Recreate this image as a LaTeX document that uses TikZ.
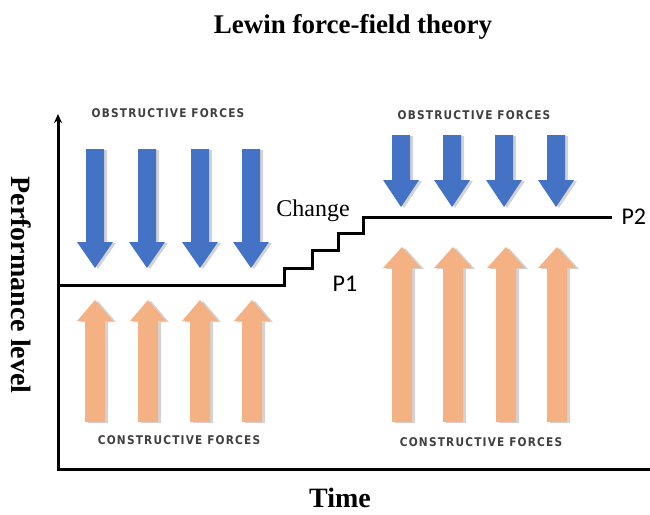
\documentclass[tikz,border=0pt]{standalone}
\usepackage{fontspec}
\setmainfont{Liberation Serif}
\newfontfamily\pfont{Carlito}
\newfontfamily\forcefont{DejaVu Sans}[FakeStretch=0.88, LetterSpace=10]
\usetikzlibrary{shadows,arrows.meta}

\definecolor{obsblue}{HTML}{4472C4}
\definecolor{conorange}{HTML}{F4B183}

\tikzset{
  forceshadow/.style={drop shadow={opacity=0.35, shadow xshift=3pt, shadow yshift=-1pt}},
  obstructive/.style={fill=obsblue, forceshadow},
  constructive/.style={fill=conorange, forceshadow},
  forcelabel/.style={font=\forcefont\bfseries\fontsize{12}{14}\selectfont, text=black!75},
  axis/.style={line width=3pt, line cap=round},
  level/.style={line width=3pt},
}

\begin{document}
\begin{tikzpicture}[x=1pt, y=-1pt, >={Stealth[length=9pt, width=8pt]}]
	\useasboundingbox (0,0) rectangle (650,514);
	% axes
	\coordinate (origin) at (58,469);
	\coordinate (ytop) at (58,114);
	\coordinate (xend) at (650,469);
	\draw[axis, <-] (ytop) -- (origin) -- (xend);
	% forces before the change
	\foreach \x in {95,147,200,251}
	  \fill[obstructive] (\x-9,149) -- (\x+9,149) -- (\x+9,242) -- (\x+18,242) -- (\x,268) -- (\x-18,242) -- (\x-9,242) -- cycle;
	\foreach \x in {95,148,200,252}
	  \fill[constructive] (\x-10,422) -- (\x+10,422) -- (\x+10,321) -- (\x+18,321) -- (\x,300) -- (\x-18,321) -- (\x-10,321) -- cycle;
	% forces after the change
	\foreach \x in {401,452,504,556}
	  \fill[obstructive] (\x-9,135) -- (\x+9,135) -- (\x+9,180) -- (\x+18,180) -- (\x,207) -- (\x-18,180) -- (\x-9,180) -- cycle;
	\foreach \x in {402,453,506,557}
	  \fill[constructive] (\x-10,422) -- (\x+10,422) -- (\x+10,268) -- (\x+19,268) -- (\x,247) -- (\x-19,268) -- (\x-10,268) -- cycle;
	% performance level
	\draw[level] (58,285) -- (284,285) |- (312,268) |- (338,250) |- (363,233) |- (612,217);
	\node (title) at (353,27) {\fontsize{27}{31}\selectfont\bfseries Lewin force-field theory};
	\node[rotate=-90] (ylabel) at (21,285) {\fontsize{28}{32}\selectfont\bfseries Performance level};
	\node (xlabel) at (340,498) {\fontsize{28}{32}\selectfont\bfseries Time};
	\node (change) at (313,211) {\fontsize{24}{28}\selectfont Change};
	\node (p1) at (345,284) {\pfont\fontsize{24}{28}\selectfont P1};
	\node[anchor=west] (p2) at (618,217) {\pfont\fontsize{24}{28}\selectfont P2};
	\node[forcelabel] (obsleft) at (168,113) {OBSTRUCTIVE FORCES};
	\node[forcelabel] (obsright) at (474,115) {OBSTRUCTIVE FORCES};
	\node[forcelabel] (conleft) at (179,440) {CONSTRUCTIVE FORCES};
	\node[forcelabel] (conright) at (481,442) {CONSTRUCTIVE FORCES};
\end{tikzpicture}
\end{document}
